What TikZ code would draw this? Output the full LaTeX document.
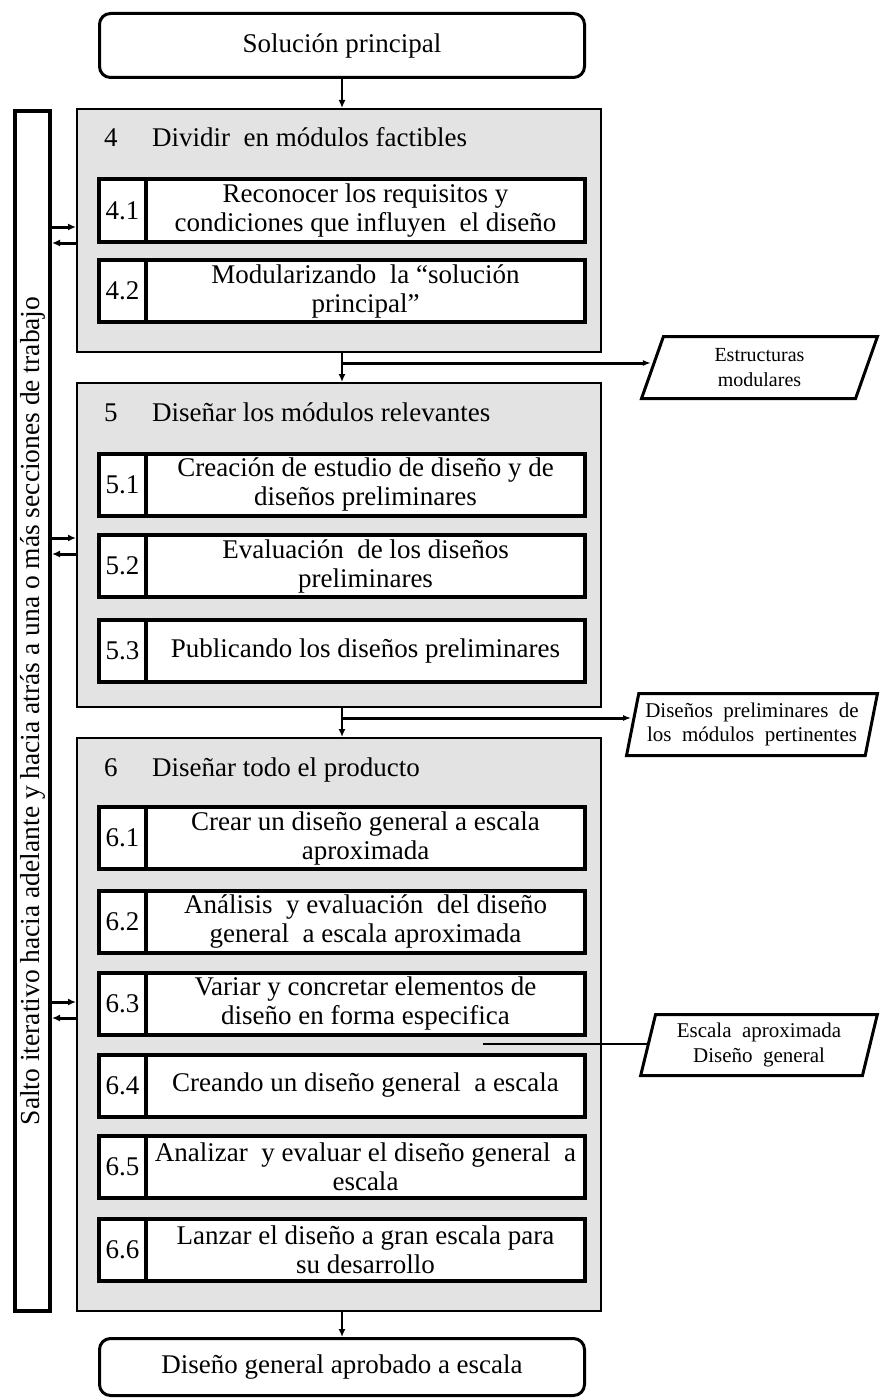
\documentclass[tikz,border=0pt]{standalone}
\usepackage{fontspec}
\setmainfont{Liberation Serif}
\usetikzlibrary{arrows.meta,shapes.geometric}
\definecolor{panelgray}{RGB}{227,227,227}
\tikzset{
  txt/.style={font=\fontsize{27}{29}\selectfont},
  endbox/.style={draw, line width=3pt, rounded corners=11pt, fill=white,
    minimum width=485pt, inner sep=0pt, txt},
  panel/.style={draw, line width=2pt, fill=panelgray, minimum width=524pt, inner sep=0pt},
  numbox/.style={draw, line width=4pt, fill=white, minimum width=47pt,
    minimum height=62pt, inner sep=0pt, txt},
  taskbox/.style={draw, line width=4pt, fill=white, minimum width=439pt,
    minimum height=62pt, inner sep=0pt, align=center, txt},
  outbox/.style={draw, line width=3pt, fill=white, trapezium,
    trapezium left angle=75, trapezium right angle=105, trapezium stretches=true,
    inner sep=0pt, align=center},
  flow/.style={line width=2.5pt, -{Latex[length=8pt,width=7pt]}},
  feed/.style={line width=3pt, -{Latex[length=8pt,width=7pt]}},
  title/.style={anchor=base west, inner sep=0pt, txt},
}
\begin{document}
\begin{tikzpicture}[x=1pt,y=-1pt]
\useasboundingbox (0,0) rectangle (881,1399);

% start and end
\node[endbox, minimum height=64pt] (top) at (342,45.5) {Solución principal};
\node[endbox, minimum height=57pt] (bot) at (342,1367) {Diseño general aprobado a escala};

% iteration bar
\node[draw, line width=4pt, minimum width=35pt, minimum height=1200pt, inner sep=0pt] (lb) at (32.5,711) {};
\node[rotate=90, font=\fontsize{27.5}{29}\selectfont, inner sep=0pt] (lbt) at (33,711)
  {Salto iterativo hacia adelante y hacia atrás a una o más secciones de trabajo};

% work section panels
\node[panel, minimum height=243pt] (g4) at (339,230.5) {};
\node[panel, minimum height=324pt] (g5) at (339,545) {};
\node[panel, minimum height=573pt] (g6) at (339,1024.5) {};

\node[title] (g4n) at (104,147) {4};
\node[title] (g4t) at (152,147) {Dividir \ en módulos factibles};
\node[title] (g5n) at (104,421) {5};
\node[title] (g5t) at (152,421) {Diseñar los módulos relevantes};
\node[title] (g6n) at (104,776) {6};
\node[title] (g6t) at (152,776) {Diseñar todo el producto};

% steps of section 4
\node[numbox] (n41) at (122.5,210.5) {4.1};
\node[taskbox] (s41) at (365.5,210.5) {Reconocer los requisitos y\\condiciones que influyen \ el diseño};
\node[numbox] (n42) at (122.5,291) {4.2};
\node[taskbox] (s42) at (365.5,291) {Modularizando \ la “solución\\principal”};

% steps of section 5
\node[numbox] (n51) at (122.5,484.5) {5.1};
\node[taskbox] (s51) at (365.5,484.5) {Creación de estudio de diseño y de\\diseños preliminares};
\node[numbox] (n52) at (122.5,566) {5.2};
\node[taskbox] (s52) at (365.5,566) {Evaluación \ de los diseños\\preliminares};
\node[numbox] (n53) at (122.5,650.5) {5.3};
\node[taskbox] (s53) at (365.5,650.5) {Publicando los diseños preliminares};

% steps of section 6
\node[numbox] (n61) at (122.5,838) {6.1};
\node[taskbox] (s61) at (365.5,838) {Crear un diseño general a escala\\aproximada};
\node[numbox] (n62) at (122.5,921.5) {6.2};
\node[taskbox] (s62) at (365.5,921.5) {Análisis \ y evaluación \ del diseño\\general \ a escala aproximada};
\node[numbox] (n63) at (122.5,1003.5) {6.3};
\node[taskbox] (s63) at (365.5,1003.5) {Variar y concretar elementos de\\diseño en forma especifica};
\node[numbox] (n64) at (122.5,1085.5) {6.4};
\node[taskbox] (s64) at (365.5,1085.5) {Creando un diseño general \ a escala};
\node[numbox] (n65) at (122.5,1166.5) {6.5};
\node[taskbox] (s65) at (365.5,1166.5) {Analizar \ y evaluar el diseño general \ a\\escala};
\node[numbox] (n66) at (122.5,1250) {6.6};
\node[taskbox] (s66) at (365.5,1250) {Lanzar el diseño a gran escala para\\su desarrollo};

% outputs
\node[outbox, minimum width=236pt, minimum height=62pt,
  font=\fontsize{20}{25}\selectfont] (p1) at (759.5,367.5) {Estructuras\\modulares};
\node[outbox, minimum width=251pt, minimum height=62pt,
  font=\fontsize{21}{24}\selectfont] (p2) at (752,724.5)
  {Diseños \ preliminares \ de\\los \ módulos \ pertinentes};
\node[outbox, minimum width=237pt, minimum height=61pt,
  font=\fontsize{21}{25}\selectfont] (p3) at (759,1045) {Escala \ aproximada\\Diseño \ general};

% main flow
\draw[flow] (top.south) -- (top.south |- g4.north);
\draw[flow] (top.south |- g4.south) -- (top.south |- g5.north);
\draw[flow] (top.south |- g5.south) -- (top.south |- g6.north);
\draw[flow] (top.south |- g6.south) -- (bot.north);

% output branches
\coordinate (j4) at (342,363);
\coordinate (j5) at (342,718);
\coordinate (j6) at (483,1044);
\draw[line width=3pt, -{Latex[length=8pt,width=6pt]}] (j4) -- (j4 -| p1.left side);
\draw[line width=3pt, -{Latex[length=8pt,width=6pt]}] (j5) -- (j5 -| p2.left side);
\draw[line width=2.5pt] (j6) -- (j6 -| p3.left side);

% iteration jumps
\foreach \ya/\yb/\g in {227/243/g4, 538/554/g5, 1002/1018/g6}{
  \coordinate (fa) at (0,\ya);
  \coordinate (fb) at (0,\yb);
  \draw[feed] (lb.east |- fa) -- (\g.west |- fa);
  \draw[feed] (\g.west |- fb) -- (lb.east |- fb);
}
\end{tikzpicture}
\end{document}
